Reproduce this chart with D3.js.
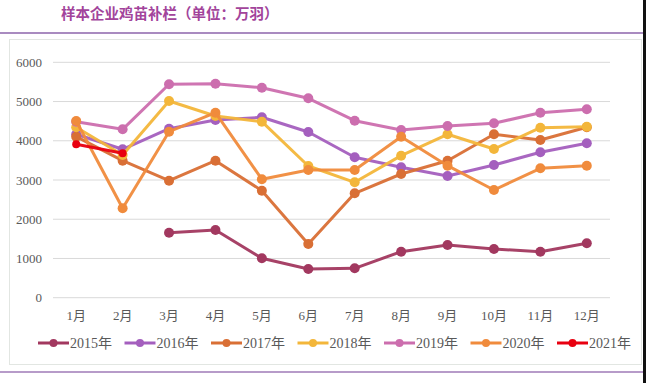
<!DOCTYPE html>
<html><head><meta charset="utf-8">
<script src="https://cdn.jsdelivr.net/npm/d3@7"></script>
<style>body{margin:0;background:#fff;}svg{display:block;}</style>
</head><body>
<script>
const months = ["1月","2月","3月","4月","5月","6月","7月","8月","9月","10月","11月","12月"];
const yTicks = [0,1000,2000,3000,4000,5000,6000];
const seriesNames = ["2015年","2016年","2017年","2018年","2019年","2020年","2021年"];
const s2015 = [null,null,1657,1726,1004,731,749,1173,1343,1241,1173,1387];
const s2016 = [4165,3783,4308,4530,4598,4224,3579,3324,3102,3383,3706,3936];
const s2017 = [4104,3492,2982,3492,2728,1369,2661,3153,3492,4165,4020,4343];
const s2018 = [4343,3637,5014,4632,4486,3357,2941,3620,4165,3790,4334,4359];
const s2019 = [4486,4292,5440,5455,5353,5083,4512,4275,4377,4445,4716,4802];
const s2020 = [4504,2279,4232,4716,3018,3255,3255,4104,3365,2745,3298,3365];
const s2021 = [3910,3681];
const colors = ["#A2385F","#A45FBE","#D96F35","#F3B63A","#CC6EAE","#F08B3C","#E80010"];
const allSeries = [s2015,s2016,s2017,s2018,s2019,s2020,s2021];
const drawOrder = [0,1,2,3,4,5,6];

const W=646,H=383;
const svg=d3.select("body").append("svg").attr("width",W).attr("height",H);
// top rule & title
svg.append("rect").attr("x",0).attr("y",32).attr("width",643).attr("height",2).attr("fill","#A98BC0");
svg.append("rect").attr("x",0).attr("y",371).attr("width",643).attr("height",2).attr("fill","#B79BC9");
svg.append("rect").attr("x",643).attr("y",0).attr("width",3).attr("height",H).attr("fill","#111");
svg.append("text").attr("x",61).attr("y",19).attr("font-family","'Noto Sans CJK SC'").attr("font-weight","bold")
  .attr("font-size",14.5).attr("fill","#A2449B").text("样本企业鸡苗补栏（单位：万羽）");
// chart box
svg.append("rect").attr("x",9.5).attr("y",39.5).attr("width",632).attr("height",325).attr("fill","#fff").attr("stroke","#E2E6E2");

const x=d3.scaleBand().domain(months).range([53,610]);
const y=d3.scaleLinear().domain([0,6000]).range([297.7,62.3]);
const serif="'Liberation Serif','Noto Sans CJK SC',serif";
// gridlines
svg.append("g").selectAll("line").data(yTicks).join("line")
  .attr("x1",53).attr("x2",610).attr("y1",d=>y(d)).attr("y2",d=>y(d))
  .attr("stroke","#D9D9D9").attr("stroke-width",1);
// y axis
const ya=svg.append("g").attr("transform","translate(42,0)").call(d3.axisLeft(y).tickValues(yTicks).tickFormat(d3.format("d")).tickSize(0).tickPadding(0));
ya.select(".domain").remove();
ya.selectAll("text").attr("font-family",serif).attr("font-size",13).attr("fill","#595959");
// x axis
const xa=svg.append("g").attr("transform","translate(0,308)").call(d3.axisBottom(x).tickSize(0).tickPadding(0));
xa.select(".domain").remove();
xa.selectAll("text").attr("font-family",serif).attr("font-size",13).attr("fill","#595959").attr("dy","0.9em");

const line=d3.line().defined(d=>d.v!=null).x(d=>x(d.m)+x.bandwidth()/2).y(d=>y(d.v));
drawOrder.forEach(i=>{
  const data=allSeries[i].map((v,j)=>({m:months[j],v:v}));
  const g=svg.append("g");
  g.append("path").datum(data).attr("d",line).attr("fill","none").attr("stroke",colors[i])
    .attr("stroke-width",3).attr("stroke-linejoin","round").attr("opacity",0.95);
  g.selectAll("circle").data(data.filter(d=>d.v!=null)).join("circle")
    .attr("cx",d=>x(d.m)+x.bandwidth()/2).attr("cy",d=>y(d.v)).attr("r",i===6?4:5).attr("fill",colors[i]);
});
// legend
const lg=svg.append("g").attr("transform","translate(38,343)");
seriesNames.forEach((n,i)=>{
  const g=lg.append("g").attr("transform",`translate(${i*86.5},0)`);
  g.append("line").attr("x1",0).attr("x2",31).attr("stroke",colors[i]).attr("stroke-width",3);
  g.append("circle").attr("cx",15.5).attr("r",4).attr("fill",colors[i]);
  g.append("text").attr("x",32).attr("y",5).attr("font-family",serif).attr("font-size",14).attr("fill","#595959").text(n);
});
</script>
</body></html>
